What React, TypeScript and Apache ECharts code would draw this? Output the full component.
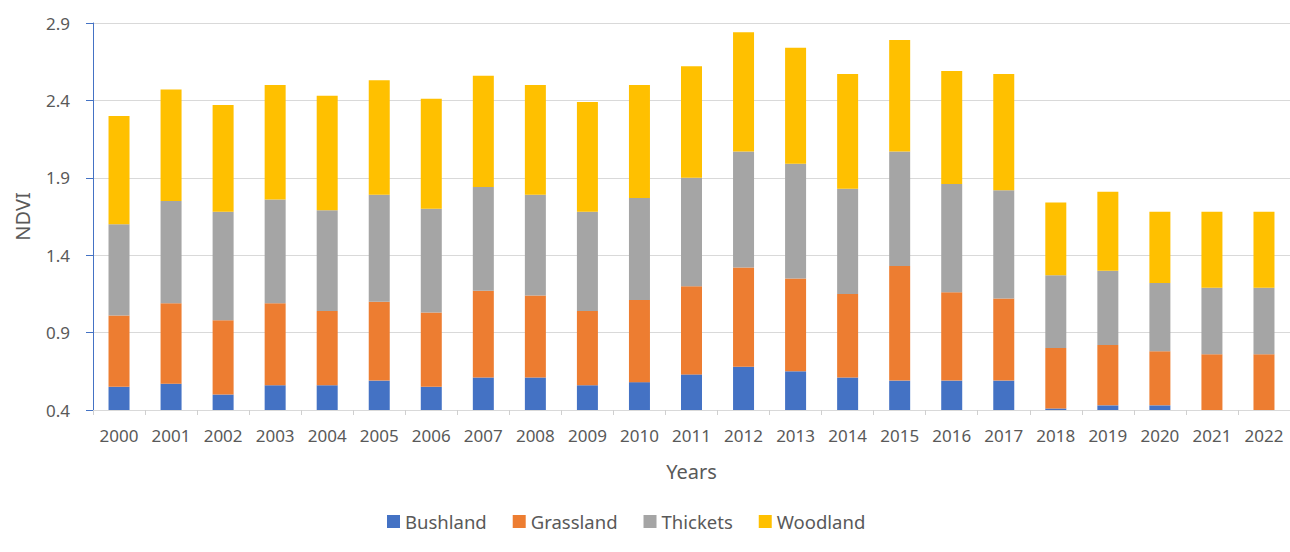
import React, { useEffect, useRef } from "react";
import * as echarts from "echarts";

const years = ["2000","2001","2002","2003","2004","2005","2006","2007","2008","2009","2010","2011","2012","2013","2014","2015","2016","2017","2018","2019","2020","2021","2022"];
const bushland = [0.55,0.57,0.50,0.56,0.56,0.59,0.55,0.61,0.61,0.56,0.58,0.63,0.68,0.65,0.61,0.59,0.59,0.59,0.41,0.43,0.43,0.38,0.38];
const grassland = [0.46,0.52,0.48,0.53,0.48,0.51,0.48,0.56,0.53,0.48,0.53,0.57,0.64,0.60,0.54,0.74,0.57,0.53,0.39,0.39,0.35,0.38,0.38];
const thickets = [0.59,0.66,0.70,0.67,0.65,0.69,0.67,0.67,0.65,0.64,0.66,0.70,0.75,0.74,0.68,0.74,0.70,0.70,0.47,0.48,0.44,0.43,0.43];
const woodland = [0.70,0.72,0.69,0.74,0.74,0.74,0.71,0.72,0.71,0.71,0.73,0.72,0.77,0.75,0.74,0.72,0.73,0.75,0.47,0.51,0.46,0.49,0.49];

const seriesNames = ["Bushland", "Grassland", "Thickets", "Woodland"];
const seriesData = [bushland, grassland, thickets, woodland];
const colors = ["#4472C4", "#ED7D31", "#A5A5A5", "#FFC000"];

const FONT = "'Noto Sans', sans-serif";

export default function App() {
  const ref = useRef<HTMLDivElement>(null);
  useEffect(() => {
    if (!ref.current) return;
    const chart = echarts.init(ref.current, undefined, { renderer: "svg" });
    chart.setOption({
      animation: false,
      textStyle: { fontFamily: FONT },
      grid: { left: 93, top: 23, width: 1204, height: 387, containLabel: false },
      legend: {
        data: seriesNames,
        top: 507,
        left: 382,
        icon: "rect",
        itemWidth: 13,
        itemHeight: 13,
        itemGap: 26,
        textStyle: { color: "#595959", fontSize: 18.5, fontFamily: FONT },
      },
      xAxis: {
        type: "category",
        data: years,
        name: "Years",
        nameLocation: "middle",
        nameGap: 51,
        nameTextStyle: { color: "#595959", fontSize: 20, fontFamily: FONT },
        axisLine: { lineStyle: { color: "#D9D9D9", width: 1 } },
        axisTick: { show: true, length: 5, lineStyle: { color: "#D0D0D0" } },
        axisLabel: { color: "#595959", fontSize: 17, margin: 17, fontFamily: FONT },
      },
      yAxis: {
        type: "value",
        min: 0.4,
        max: 2.9,
        interval: 0.5,
        name: "NDVI",
        nameLocation: "middle",
        nameGap: 61,
        nameRotate: 90,
        nameTextStyle: { color: "#595959", fontSize: 20, fontFamily: FONT },
        axisLine: { show: true, lineStyle: { color: "#4472C4", width: 1 } },
        axisTick: { show: true, length: 7, lineStyle: { color: "#4472C4" } },
        axisLabel: { color: "#595959", fontSize: 17, margin: 23, fontFamily: FONT, formatter: (v: number) => v.toFixed(1) },
        splitLine: { show: true, lineStyle: { color: "#D9D9D9", width: 1 } },
      },
      series: seriesNames.map((name, i) => ({
        name,
        type: "bar",
        stack: "total",
        data: seriesData[i],
        barWidth: 21,
        clip: true,
        itemStyle: { color: colors[i] },
      })),
    });
    return () => chart.dispose();
  }, []);
  return (
    <div
      ref={ref}
      style={{ position: "fixed", left: 0, top: 0, width: 1290, height: 552, background: "#fff" }}
    />
  );
}
